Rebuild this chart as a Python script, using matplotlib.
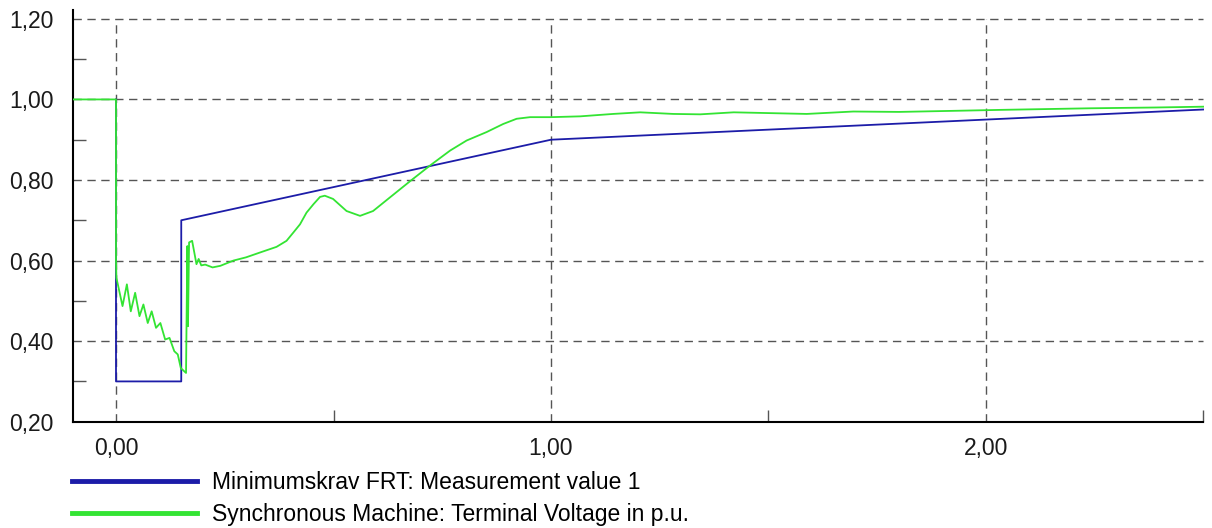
import matplotlib
matplotlib.use("Agg")
import matplotlib.pyplot as plt
from matplotlib.lines import Line2D
from matplotlib.ticker import FuncFormatter, MultipleLocator

plt.rcParams['font.family'] = ['Liberation Sans', 'DejaVu Sans']

# --- data ---
tempo_frt = [0.00, 0.00, 0.15, 0.15, 1.00, 2.50]
valor_frt = [1.00, 0.30, 0.30, 0.70, 0.90, 0.975]

tempo_sm = [-0.10, 0.000, 0.000, 0.001, 0.015, 0.025, 0.034, 0.044, 0.054, 0.063,
            0.073, 0.082, 0.092, 0.102, 0.113, 0.123, 0.134, 0.142, 0.149, 0.161,
            0.164, 0.1655, 0.168, 0.175, 0.180, 0.185, 0.190, 0.196, 0.205, 0.222,
            0.240, 0.270, 0.299, 0.331, 0.369, 0.392, 0.408, 0.423, 0.438, 0.454,
            0.469, 0.480, 0.499, 0.530, 0.561, 0.591, 0.630, 0.676, 0.722, 0.768,
            0.806, 0.852, 0.890, 0.921, 0.952, 1.000, 1.067, 1.143, 1.205, 1.281,
            1.343, 1.420, 1.588, 1.695, 1.800, 1.940, 2.030, 2.239, 2.390, 2.500]
valor_sm = [1.000, 1.000, 0.600, 0.557, 0.487, 0.541, 0.474, 0.520, 0.462, 0.491,
            0.445, 0.474, 0.433, 0.445, 0.404, 0.408, 0.375, 0.367, 0.333, 0.321,
            0.636, 0.437, 0.645, 0.649, 0.620, 0.591, 0.604, 0.588, 0.590, 0.583,
            0.587, 0.600, 0.608, 0.620, 0.634, 0.649, 0.670, 0.690, 0.719, 0.740,
            0.758, 0.761, 0.753, 0.723, 0.711, 0.723, 0.757, 0.797, 0.836, 0.873,
            0.898, 0.919, 0.939, 0.952, 0.956, 0.956, 0.958, 0.964, 0.968, 0.964,
            0.963, 0.968, 0.964, 0.970, 0.969, 0.972, 0.974, 0.978, 0.980, 0.982]

rotulos = ['Minimumskrav FRT: Measurement value 1',
           'Synchronous Machine: Terminal Voltage in p.u.']
cor_azul = '#1c1ca8'
cor_verde = '#33e433'

fig = plt.figure(figsize=(12.12, 5.28), dpi=100)
ax = fig.add_axes([72.5 / 1212, 106.3 / 528, 1131 / 1212, 411.7 / 528])

# grade tracejada (só entre 0,20 e 1,20)
for yv in [0.4, 0.6, 0.8, 1.0, 1.2]:
    ax.hlines(yv, -0.1, 2.5, colors='#555555', linestyles=(0, (6, 4)), linewidth=1, zorder=1)
for xv in [0.0, 1.0, 2.0]:
    ax.vlines(xv, 0.2, 1.2, colors='#555555', linestyles=(0, (6, 4)), linewidth=1, zorder=1)

ax.plot(tempo_frt, valor_frt, color=cor_azul, linewidth=1.3, zorder=2)
ax.plot(tempo_sm, valor_sm, color=cor_verde, linewidth=1.3, zorder=3)

ax.set_xlim(-0.1, 2.5)
ax.set_ylim(0.2, 1.222)

ax.spines['top'].set_visible(False)
ax.spines['right'].set_visible(False)
ax.spines['left'].set_linewidth(1.5)
ax.spines['bottom'].set_linewidth(1.5)

virgula = FuncFormatter(lambda v, pos: f'{v:.2f}'.replace('.', ','))
ax.xaxis.set_major_locator(MultipleLocator(1.0))
ax.xaxis.set_minor_locator(MultipleLocator(0.5))
ax.yaxis.set_major_locator(MultipleLocator(0.2))
ax.yaxis.set_minor_locator(MultipleLocator(0.1))
ax.xaxis.set_major_formatter(virgula)
ax.yaxis.set_major_formatter(virgula)

ax.tick_params(axis='both', which='major', length=0, labelsize=16.5, colors='#1a1a1a')
ax.tick_params(axis='y', which='major', pad=13.5)
ax.tick_params(axis='x', which='major', pad=11)
ax.tick_params(axis='both', which='minor', direction='in', length=9, width=1, color='#555555')

handles = [Line2D([], [], color=cor_azul, linewidth=3.5),
           Line2D([], [], color=cor_verde, linewidth=3.5)]
fig.legend(handles, rotulos, loc='upper left', bbox_to_anchor=(72 / 1212, 1 - 471 / 528),
           frameon=False, fontsize=16.5, handlelength=5.45, handletextpad=0.65,
           labelspacing=0.40, borderaxespad=0, borderpad=0)

fig.savefig('out.png', dpi=100)
